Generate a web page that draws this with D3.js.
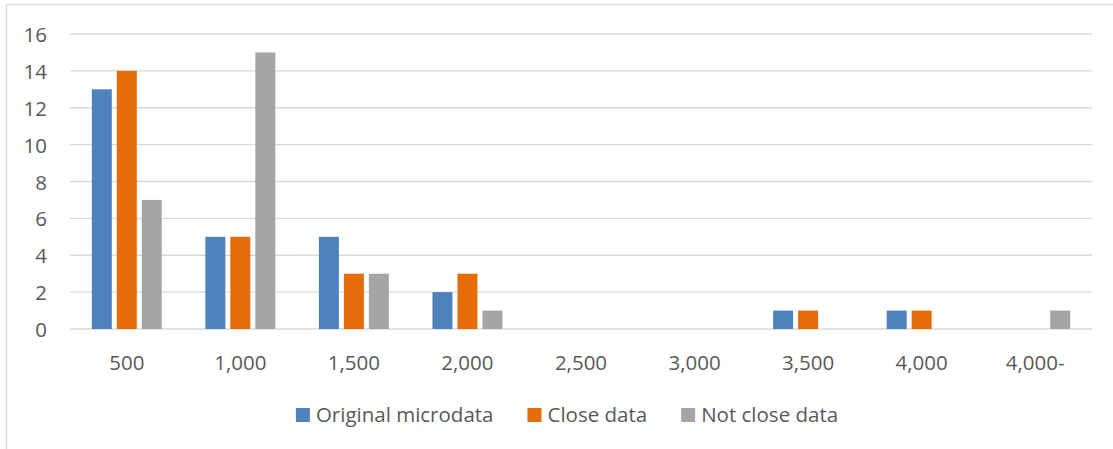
<!DOCTYPE html>
<html>
<head>
<meta charset="utf-8">
<script src="https://cdn.jsdelivr.net/npm/d3@7"></script>
<style>
  html, body { margin: 0; padding: 0; background: #fff; }
  svg { display: block; }
  text { font-family: "Open Sans", sans-serif; fill: #595959; }
</style>
</head>
<body>
<svg id="chart" width="1113" height="449"></svg>
<script>
// Income brackets on the horizontal axis
const categories = ["500", "1,000", "1,500", "2,000", "2,500", "3,000", "3,500", "4,000", "4,000-"];

// Counts per bracket for each data set
const originalMicrodata = [13, 5, 5, 2, 0, 0, 1, 1, 0];
const closeData         = [14, 5, 3, 3, 0, 0, 1, 1, 0];
const notCloseData      = [7, 15, 3, 1, 0, 0, 0, 0, 1];

const seriesNames  = ["Original microdata", "Close data", "Not close data"];
const seriesColors = ["#4F81BD", "#E46C0A", "#A5A5A5"];
const yTicks = [0, 2, 4, 6, 8, 10, 12, 14, 16];

const series = [originalMicrodata, closeData, notCloseData].map((vals, i) => ({
  name: seriesNames[i],
  color: seriesColors[i],
  values: vals
}));

const svg = d3.select("#chart");

// outer chart frame
svg.append("rect")
  .attr("x", 6.5).attr("y", 4.5)
  .attr("width", 1200).attr("height", 600)
  .attr("fill", "none").attr("stroke", "#D9D9D9").attr("stroke-width", 1.3);

const plot = { left: 70, right: 1092, top: 34, bottom: 329 };

const x = d3.scaleBand()
  .domain(categories)
  .range([plot.left, plot.right])
  .paddingInner(0).paddingOuter(0);

const y = d3.scaleLinear()
  .domain([0, 16])
  .range([plot.bottom, plot.top]);

// horizontal gridlines
svg.append("g")
  .selectAll("line")
  .data(yTicks)
  .join("line")
  .attr("x1", plot.left).attr("x2", plot.right)
  .attr("y1", d => y(d)).attr("y2", d => y(d))
  .attr("stroke", "#D9D9D9").attr("stroke-width", 1.4);

// y axis labels
svg.append("g")
  .selectAll("text")
  .data(yTicks)
  .join("text")
  .attr("x", 47)
  .attr("y", d => y(d) + 8)
  .attr("text-anchor", "end")
  .attr("font-size", 20.5)
  .text(d => d);

// grouped bars inside each band
const barW = x.bandwidth() * 0.176;
const barStep = x.bandwidth() * 0.22;
const inner = d3.scaleBand()
  .domain(d3.range(series.length))
  .range([0, barStep * series.length]);

const groups = svg.append("g")
  .selectAll("g")
  .data(series)
  .join("g")
  .attr("fill", d => d.color);

groups.each(function (s, si) {
  d3.select(this).selectAll("rect")
    .data(s.values.map((v, ci) => ({ v, c: categories[ci] })))
    .join("rect")
    .attr("x", d => x(d.c) + x.bandwidth() / 2 - (barStep * series.length) / 2 + inner(si) + (barStep - barW) / 2)
    .attr("width", barW)
    .attr("y", d => y(d.v))
    .attr("height", d => y(0) - y(d.v));
});

// category labels
svg.append("g")
  .selectAll("text")
  .data(categories)
  .join("text")
  .attr("x", d => x(d) + x.bandwidth() / 2)
  .attr("y", 370)
  .attr("text-anchor", "middle")
  .attr("font-size", 20.5)
  .text(d => d);

// legend, centred below the plot
const legend = svg.append("g");
const items = legend.selectAll("g")
  .data(series)
  .join("g");
items.append("rect")
  .attr("width", 14).attr("height", 14)
  .attr("y", 408)
  .attr("fill", d => d.color);
items.append("text")
  .attr("x", 20)
  .attr("y", 422)
  .attr("font-size", 20.5)
  .text(d => d.name);

let cursor = 0;
const offsets = [];
items.each(function () {
  offsets.push(cursor);
  const w = d3.select(this).select("text").node().getComputedTextLength();
  cursor += 20 + w + 34;
});
const totalW = cursor - 34;
const startX = 567 - totalW / 2;
items.attr("transform", (d, i) => `translate(${startX + offsets[i]},0)`);
</script>
</body>
</html>
